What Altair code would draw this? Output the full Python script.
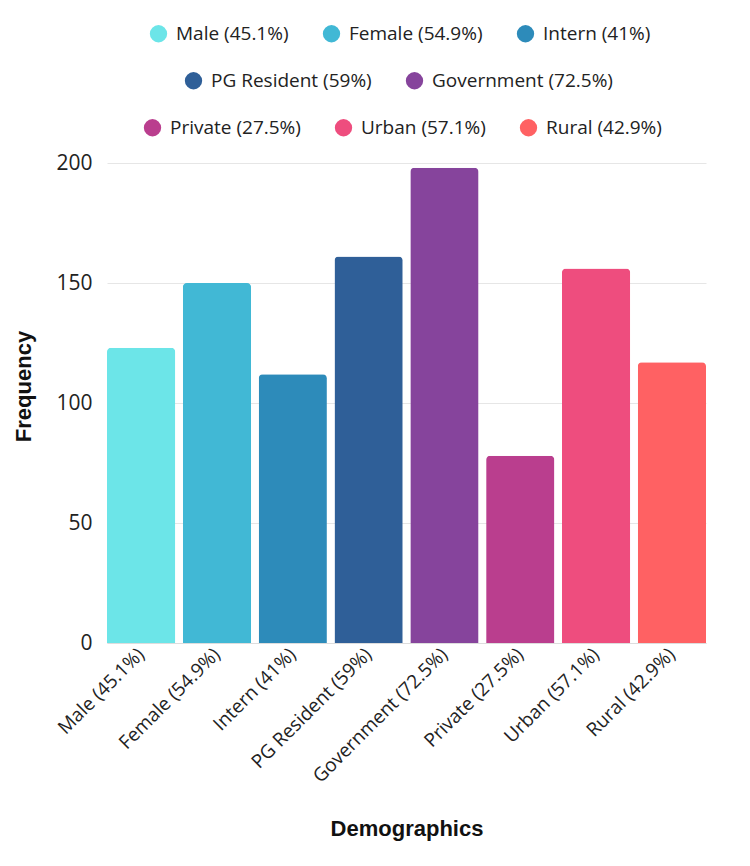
import altair as alt
import pandas as pd

categories = ["Male (45.1%)", "Female (54.9%)", "Intern (41%)", "PG Resident (59%)",
              "Government (72.5%)", "Private (27.5%)", "Urban (57.1%)", "Rural (42.9%)"]
frequency = [123, 150, 112, 161, 198, 78, 156, 117]
colors = ["#6CE5E8", "#41B8D5", "#2D8BBA", "#2F5F98", "#86449C", "#BA3E8E", "#EE4D7E", "#FF6163"]
legend_rows = [categories[0:3], categories[3:5], categories[5:8]]
color_rows = [colors[0:3], colors[3:5], colors[5:8]]

df = pd.DataFrame({"category": categories, "frequency": frequency})

FONT = "Open Sans"
TITLE_FONT = "Liberation Sans"
legend_pos = [(42, -139), (77, -92), (36, -45)]

layers = []
for i, (cats, cols) in enumerate(zip(legend_rows, color_rows)):
    lx, ly = legend_pos[i]
    layer = alt.Chart(df).transform_filter(
        alt.FieldOneOfPredicate(field="category", oneOf=cats)
    ).mark_bar(cornerRadiusTopLeft=4, cornerRadiusTopRight=4).encode(
        x=alt.X("category:N", sort=categories,
                scale=alt.Scale(domain=categories, paddingInner=0.1, paddingOuter=0),
                axis=alt.Axis(title="Demographics", labelAngle=-45, labelAlign="right",
                              labelBaseline="middle", labelPadding=8, labelFont=FONT,
                              labelFontSize=19, labelColor="#222", ticks=False,
                              labelLimit=300,
                              domainColor="#dddddd", titleFont=TITLE_FONT,
                              titleFontSize=22, titleFontWeight="bold", titleColor="#111",
                              titlePadding=32)),
        y=alt.Y("frequency:Q", scale=alt.Scale(domain=[0, 200]),
                axis=alt.Axis(title="Frequency", values=[0, 50, 100, 150, 200], ticks=False,
                              domain=False, gridColor="#e6e6e6", labelFont=FONT,
                              labelFontSize=21, labelColor="#222", labelPadding=15,
                              titleFont=TITLE_FONT, titleFontSize=22,
                              titleFontWeight="bold", titleColor="#111", titlePadding=20,
                              titleY=223)),
        color=alt.Color("category:N",
                        scale=alt.Scale(domain=cats, range=cols),
                        legend=alt.Legend(title=None, orient="none", direction="horizontal",
                                          legendX=lx, legendY=ly, symbolType="circle",
                                          symbolSize=300, symbolStrokeWidth=0,
                                          labelFont=FONT, labelFontSize=19, labelColor="#222",
                                          labelOffset=8, columnPadding=33, padding=0,
                                          labelLimit=300)),
    )
    layers.append(layer)

chart = alt.layer(*layers).resolve_scale(color="independent").properties(
    width=599, height=480,
    background="white",
    autosize=alt.AutoSizeParams(type="none"),
    padding={"left": 107, "top": 163, "right": 44, "bottom": 223},
).configure_view(stroke=None)

chart.save("out.html", embed_options={"renderer": "svg", "actions": False})
